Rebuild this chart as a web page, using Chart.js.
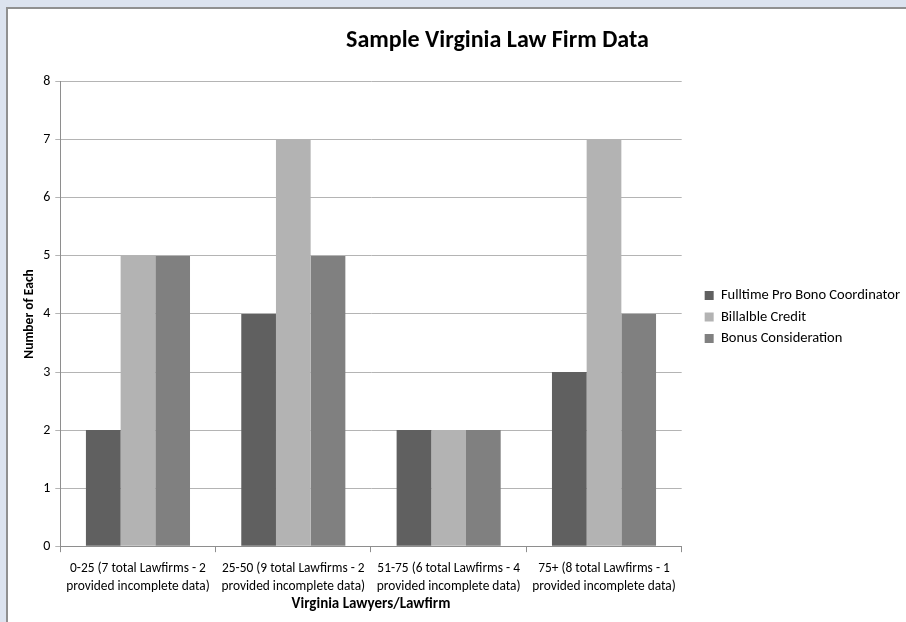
<!DOCTYPE html>
<html>
<head>
<meta charset="utf-8">
<script src="https://cdn.jsdelivr.net/npm/chart.js@4"></script>
<style>
  html, body { margin: 0; padding: 0; background: #dce3ef; overflow: hidden; }
  #panel {
    position: absolute; left: 6px; top: 7px;
    width: 898px; height: 613px;
    border-left: 2px solid #909090; border-top: 2px solid #909090;
    background: #fff;
  }
</style>
</head>
<body>
<div id="panel"><canvas id="chart"></canvas></div>
<script>
const categories = [
    ['0-25 (7 total Lawfirms - 2', 'provided incomplete data)'],
    ['25-50 (9 total Lawfirms - 2', 'provided incomplete data)'],
    ['51-75 (6 total Lawfirms - 4', 'provided incomplete data)'],
    ['75+ (8 total Lawfirms - 1', 'provided incomplete data)']
];
const fulltimeCoordinator = [2, 4, 2, 3];
const billableCredit = [5, 7, 2, 7];
const bonusConsideration = [5, 5, 2, 4];

const font = "Carlito, Calibri, 'Liberation Sans Narrow', 'Open Sans', sans-serif";

// shift title over and push legend a bit away from the plot, like Excel does
const nudge = {
    id: 'nudge',
    afterLayout(chart) {
        if (chart.titleBlock) chart.titleBlock.left += 79;
        chart.legend.left += 16;
        chart.legend.right += 16;
    }
};

let ctx = document.getElementById('chart').getContext('2d');

let chart = new Chart(ctx, {
    type: 'bar',
    data: {
        labels: categories,
        datasets: [{
            label: 'Fulltime Pro Bono Coordinator',
            backgroundColor: '#606060',
            data: fulltimeCoordinator
        }, {
            label: 'Billalble Credit',
            backgroundColor: '#b3b3b3',
            data: billableCredit
        }, {
            label: 'Bonus Consideration',
            backgroundColor: '#808080',
            data: bonusConsideration
        }]
    },
    options: {
        responsive: true,
        maintainAspectRatio: false,
        animation: false,
        categoryPercentage: 0.67,
        barPercentage: 1.0,
        layout: { padding: { left: 14, top: 8, right: 12, bottom: 5 } },
        plugins: {
            title: {
                display: true,
                text: 'Sample Virginia Law Firm Data',
                color: '#000',
                font: { family: font, size: 24, weight: 'bold' },
                padding: { top: 10, bottom: 26 }
            },
            legend: {
                position: 'right',
                labels: {
                    boxWidth: 9,
                    boxHeight: 9,
                    padding: 7,
                    color: '#000',
                    font: { family: font, size: 14.5 }
                }
            },
            tooltip: { enabled: false }
        },
        scales: {
            x: {
                grid: {
                    drawOnChartArea: false,
                    tickLength: 6,
                    color: '#8e8e8e'
                },
                border: { color: '#8e8e8e' },
                ticks: {
                    color: '#000',
                    maxRotation: 0,
                    autoSkip: false,
                    padding: 8,
                    font: { family: font, size: 13.4, lineHeight: 1.3 }
                },
                title: {
                    display: true,
                    text: 'Virginia Lawyers/Lawfirm',
                    color: '#000',
                    font: { family: font, size: 15, weight: 'bold' },
                    padding: { top: -8, bottom: 4 }
                }
            },
            y: {
                min: 0,
                max: 8,
                ticks: {
                    stepSize: 1,
                    color: '#000',
                    padding: 5,
                    font: { family: font, size: 14 }
                },
                grid: {
                    color: '#b4b4b4',
                    tickLength: 5
                },
                border: { color: '#8e8e8e' },
                title: {
                    display: true,
                    text: 'Number of Each',
                    color: '#000',
                    font: { family: font, size: 13.5, weight: 'bold' },
                    padding: { top: 0, bottom: 0 }
                }
            }
        }
    },
    plugins: [nudge]
});
</script>
</body>
</html>
